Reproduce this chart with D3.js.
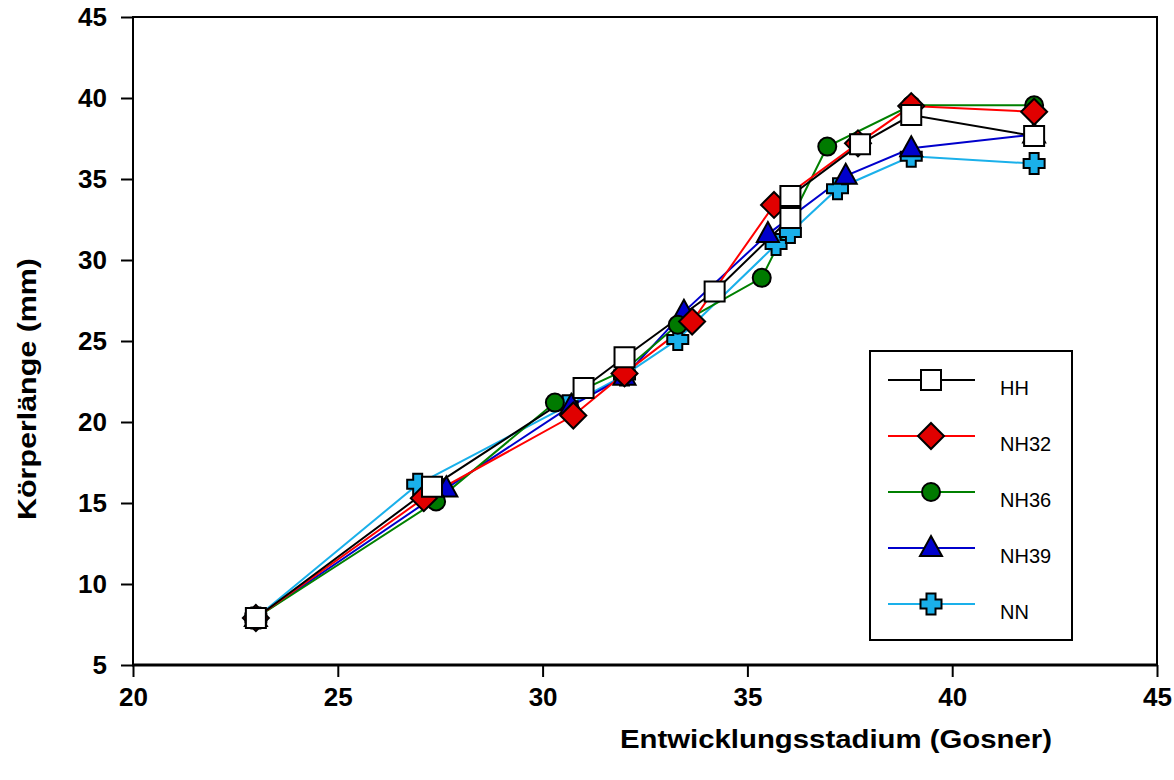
<!DOCTYPE html>
<html>
<head>
<meta charset="utf-8">
<script src="https://cdn.jsdelivr.net/npm/d3@7"></script>
<style>
  body { margin: 0; background: #fff; }
  svg text { font-family: "Liberation Sans", Arial, sans-serif; }
</style>
</head>
<body>
<svg id="chart" width="1174" height="780"></svg>
<script>
// data
var hhX   = [23, 27.3, 31.0, 32.0, 34.2, 36.05, 36.05, 37.75, 39.0, 42.0];
var hhY   = [7.9, 16.0, 22.1, 24.0, 28.05, 32.6, 33.95, 37.15, 38.95, 37.65];
var nh32X = [23, 27.1, 30.75, 32.0, 33.65, 35.65, 37.7, 39.0, 42.0];
var nh32Y = [7.9, 15.3, 20.4, 23.0, 26.2, 33.4, 37.2, 39.5, 39.15];
var nh36X = [23, 27.4, 30.3, 32.0, 33.3, 35.35, 36.95, 39.0, 42.0];
var nh36Y = [7.9, 15.1, 21.2, 23.2, 26.0, 28.9, 37.0, 39.55, 39.55];
var nh39X = [23, 27.65, 30.7, 32.0, 33.45, 35.5, 37.4, 39.0, 42.0];
var nh39Y = [7.9, 15.9, 21.0, 22.8, 26.8, 31.6, 35.2, 36.9, 37.75];
var nnX   = [23, 26.95, 30.6, 32.0, 33.3, 35.7, 36.05, 37.2, 39.0, 42.0];
var nnY   = [7.9, 16.15, 21.0, 22.9, 25.1, 30.95, 31.7, 34.4, 36.4, 35.95];

var seriesNames = ["HH", "NH32", "NH36", "NH39", "NN"];
var xTicks = [20, 25, 30, 35, 40, 45];
var yTicks = [5, 10, 15, 20, 25, 30, 35, 40, 45];
var xTitle = "Entwicklungsstadium (Gosner)";
var yTitle = "Körperlänge (mm)";

function zip(xs, ys) {
    return xs.map(function (d, i) { return {x: d, y: ys[i]}; });
}

var series = [
    {name: seriesNames[0], pts: zip(hhX, hhY),     line: "#000000", fill: "#ffffff", shape: "square"},
    {name: seriesNames[1], pts: zip(nh32X, nh32Y), line: "#ff0000", fill: "#e00000", shape: "diamond"},
    {name: seriesNames[2], pts: zip(nh36X, nh36Y), line: "#008000", fill: "#007a00", shape: "circle"},
    {name: seriesNames[3], pts: zip(nh39X, nh39Y), line: "#0000cc", fill: "#0000cc", shape: "triangle"},
    {name: seriesNames[4], pts: zip(nnX, nnY),     line: "#1ab0ea", fill: "#1ab0ea", shape: "cross"}
];

// marker outlines, centred on 0,0
function markerPath(shape) {
    var p = d3.path();
    if (shape === "square") {
        p.rect(-10, -10, 20, 20);
    } else if (shape === "diamond") {
        p.moveTo(0, -13); p.lineTo(13, 0); p.lineTo(0, 13); p.lineTo(-13, 0); p.closePath();
    } else if (shape === "circle") {
        p.arc(0, 0, 9, 0, 2 * Math.PI);
    } else if (shape === "triangle") {
        p.moveTo(0, -12); p.lineTo(11, 8); p.lineTo(-11, 8); p.closePath();
    } else {
        var a = 10.5, b = 4.5;
        p.moveTo(-b, -a); p.lineTo(b, -a); p.lineTo(b, -b); p.lineTo(a, -b); p.lineTo(a, b);
        p.lineTo(b, b); p.lineTo(b, a); p.lineTo(-b, a); p.lineTo(-b, b); p.lineTo(-a, b);
        p.lineTo(-a, -b); p.lineTo(-b, -b); p.closePath();
    }
    return p.toString();
}

var svg = d3.select("#chart");

var x = d3.scaleLinear().domain([20, 45]).range([133, 1157]);
var y = d3.scaleLinear().domain([5, 45]).range([665, 17]);

// frame
svg.append("rect")
    .attr("x", x(20)).attr("y", y(45))
    .attr("width", x(45) - x(20)).attr("height", y(5) - y(45))
    .attr("fill", "none").attr("stroke", "#000").attr("stroke-width", 2);

// axes
var xAxis = d3.axisBottom(x).tickValues(xTicks).tickSize(12).tickPadding(10).tickFormat(d3.format("d"));
var yAxis = d3.axisLeft(y).tickValues(yTicks).tickSize(12).tickPadding(14).tickFormat(d3.format("d"));

var gx = svg.append("g").attr("transform", "translate(0," + y(5) + ")").call(xAxis);
var gy = svg.append("g").attr("transform", "translate(" + x(20) + ",0)").call(yAxis);

[gx, gy].forEach(function (g) {
    g.select(".domain").remove();
    g.selectAll(".tick line").attr("stroke", "#000").attr("stroke-width", 2);
    g.selectAll(".tick text")
        .attr("fill", "#000")
        .attr("font-size", 26)
        .attr("font-weight", "bold");
});
gx.selectAll(".tick text").attr("dy", "0.72em");

// thicker bottom axis line
svg.append("line")
    .attr("x1", x(20) - 1).attr("x2", x(45) + 1)
    .attr("y1", y(5)).attr("y2", y(5))
    .attr("stroke", "#000").attr("stroke-width", 3);

// titles
svg.append("text")
    .attr("x", 836).attr("y", 748)
    .attr("text-anchor", "middle")
    .attr("textLength", 432).attr("lengthAdjust", "spacingAndGlyphs")
    .attr("font-size", 26).attr("font-weight", "bold")
    .text(xTitle);

svg.append("text")
    .attr("transform", "translate(36,389) rotate(-90)")
    .attr("text-anchor", "middle")
    .attr("textLength", 262).attr("lengthAdjust", "spacingAndGlyphs")
    .attr("font-size", 26).attr("font-weight", "bold")
    .text(yTitle);

// lines
var line = d3.line().x(function (d) { return x(d.x); }).y(function (d) { return y(d.y); });

var drawOrder = series.slice().reverse(); // NN at the bottom, HH on top

drawOrder.forEach(function (s) {
    svg.append("path")
        .datum(s.pts)
        .attr("d", line)
        .attr("fill", "none")
        .attr("stroke", s.line)
        .attr("stroke-width", 2);
});

drawOrder.forEach(function (s) {
    svg.append("g").selectAll("path")
        .data(s.pts)
        .join("path")
        .attr("transform", function (d) { return "translate(" + x(d.x) + "," + y(d.y) + ")"; })
        .attr("d", markerPath(s.shape))
        .attr("fill", s.fill)
        .attr("stroke", "#000")
        .attr("stroke-width", 2);
});

// legend
var legend = svg.append("g");
legend.append("rect")
    .attr("x", 870).attr("y", 351).attr("width", 202).attr("height", 289)
    .attr("fill", "#fff").attr("stroke", "#000").attr("stroke-width", 2);

series.forEach(function (s, i) {
    var ry = 380 + i * 56;
    legend.append("line")
        .attr("x1", 888).attr("x2", 975).attr("y1", ry).attr("y2", ry)
        .attr("stroke", s.line).attr("stroke-width", 2);
    legend.append("path")
        .attr("transform", "translate(931," + ry + ")")
        .attr("d", markerPath(s.shape))
        .attr("fill", s.fill).attr("stroke", "#000").attr("stroke-width", 2);
    legend.append("text")
        .attr("x", 1000).attr("y", ry + 8)
        .attr("dy", "0.35em")
        .attr("font-size", 20)
        .text(s.name);
});
</script>
</body>
</html>
